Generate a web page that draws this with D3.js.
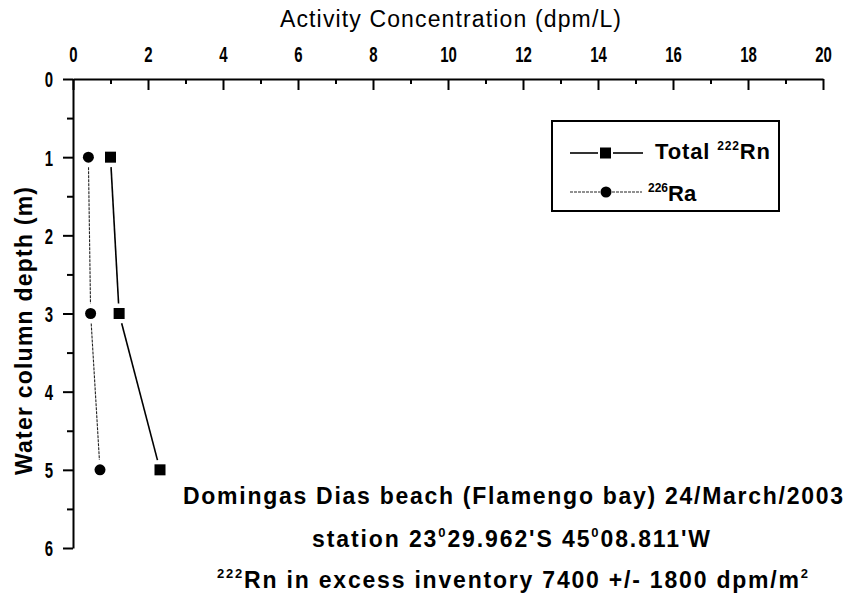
<!DOCTYPE html>
<html>
<head>
<meta charset="utf-8">
<script src="https://cdn.jsdelivr.net/npm/d3@7"></script>
<style>
  body { margin: 0; background: #fff; }
  svg { display: block; }
</style>
</head>
<body>
<svg id="chart" width="854" height="607"></svg>
<script>
// depth of the samples (m)
var depths = [1, 3, 5];
// activity concentration (dpm/L)
var rnTotal = [1.0, 1.23, 2.32];
var ra226 = [0.41, 0.47, 0.72];

var xMajor = [0, 2, 4, 6, 8, 10, 12, 14, 16, 18, 20];
var xMinor = [1, 3, 5, 7, 9, 11, 13, 15, 17, 19];
var yMajor = [0, 1, 2, 3, 4, 5, 6];
var yMinor = [0.5, 1.5, 2.5, 3.5, 4.5, 5.5];

var svg = d3.select("#chart");
var font = "'Liberation Sans', Arial, Helvetica, sans-serif";
var squeeze = 0.68; // tick labels are a narrow face

var x = d3.scaleLinear().domain([0, 20]).range([73, 823]);
var y = d3.scaleLinear().domain([0, 6]).range([79, 548]);

// top axis, ticks pointing down into the plot
var xAxis = svg.append("g").attr("transform", "translate(0," + y(0) + ")")
  .call(d3.axisTop(x).tickValues(xMajor).tickSize(-11).tickSizeOuter(0).tickPadding(17).tickFormat(d3.format("d")));
svg.append("g").attr("transform", "translate(0," + y(0) + ")")
  .call(d3.axisTop(x).tickValues(xMinor).tickSize(-5).tickFormat(""))
  .select(".domain").remove();

var yAxis = svg.append("g").attr("transform", "translate(" + x(0) + ",0)")
  .call(d3.axisLeft(y).tickValues(yMajor).tickSize(10).tickSizeOuter(0).tickPadding(10).tickFormat(d3.format("d")));
svg.append("g").attr("transform", "translate(" + x(0) + ",0)")
  .call(d3.axisLeft(y).tickValues(yMinor).tickSize(6).tickFormat(""))
  .select(".domain").remove();

svg.selectAll(".domain, .tick line").attr("stroke", "#000").attr("stroke-width", 2);
svg.selectAll(".tick text")
  .attr("font-family", font).attr("font-size", 22).attr("font-weight", "bold").attr("fill", "#000");
xAxis.selectAll(".tick text").attr("transform", "scale(" + squeeze + ",1)");
yAxis.selectAll(".tick text")
  .attr("x", -20 / squeeze).attr("dy", "0.36em")
  .attr("transform", "scale(" + squeeze + ",1)");

// axis titles
svg.append("text")
  .attr("x", 280).attr("y", 27)
  .attr("textLength", 341).attr("lengthAdjust", "spacing")
  .style("font-family", font).style("font-size", "23px")
  .text("Activity Concentration (dpm/L)");

svg.append("text")
  .attr("transform", "translate(32,475) rotate(-90)")
  .attr("textLength", 288).attr("lengthAdjust", "spacing")
  .style("font-family", font).style("font-size", "23px").style("font-weight", "bold")
  .text("Water column depth (m)");

// segments with small gaps next to the symbols
function drawSeries(values, gap, stroke, width, dash) {
  for (var i = 0; i < values.length - 1; i++) {
    var x1 = x(values[i]), y1 = y(depths[i]);
    var x2 = x(values[i + 1]), y2 = y(depths[i + 1]);
    var len = Math.hypot(x2 - x1, y2 - y1);
    var ux = (x2 - x1) / len, uy = (y2 - y1) / len;
    svg.append("line")
      .attr("x1", x1 + ux * gap).attr("y1", y1 + uy * gap)
      .attr("x2", x2 - ux * gap).attr("y2", y2 - uy * gap)
      .attr("stroke", stroke).attr("stroke-width", width)
      .attr("stroke-dasharray", dash);
  }
}
drawSeries(rnTotal, 10, "#000", 1.6, null);
drawSeries(ra226, 10, "#222", 1.1, "3,1");

svg.selectAll(".rn").data(depths).enter().append("rect")
  .attr("class", "rn")
  .attr("x", function(d, i) { return x(rnTotal[i]) - 5.5; })
  .attr("y", function(d) { return y(d) - 5.5; })
  .attr("width", 11).attr("height", 11)
  .attr("fill", "#000");

svg.selectAll(".ra").data(depths).enter().append("circle")
  .attr("class", "ra")
  .attr("cx", function(d, i) { return x(ra226[i]); })
  .attr("cy", function(d) { return y(d); })
  .attr("r", 5.5)
  .attr("fill", "#000");

// legend
var lg = svg.append("g");
lg.append("rect")
  .attr("x", 552).attr("y", 121).attr("width", 227).attr("height", 90)
  .attr("fill", "none").attr("stroke", "#000").attr("stroke-width", 2);

lg.append("line").attr("x1", 570).attr("x2", 598).attr("y1", 153).attr("y2", 153)
  .attr("stroke", "#000").attr("stroke-width", 1.6);
lg.append("line").attr("x1", 613).attr("x2", 643).attr("y1", 153).attr("y2", 153)
  .attr("stroke", "#000").attr("stroke-width", 1.6);
lg.append("rect").attr("x", 600).attr("y", 147.5).attr("width", 11).attr("height", 11).attr("fill", "#000");
lg.append("line").attr("x1", 570).attr("x2", 600).attr("y1", 192).attr("y2", 192)
  .attr("stroke", "#222").attr("stroke-width", 1.1).attr("stroke-dasharray", "3,1");
lg.append("line").attr("x1", 612).attr("x2", 642).attr("y1", 192).attr("y2", 192)
  .attr("stroke", "#222").attr("stroke-width", 1.1).attr("stroke-dasharray", "3,1");
lg.append("circle").attr("cx", 606).attr("cy", 192).attr("r", 5.5).attr("fill", "#000");

var t1 = lg.append("text").attr("x", 655).attr("y", 159)
  .attr("textLength", 115).attr("lengthAdjust", "spacing")
  .style("font-family", font).style("font-size", "22px").style("font-weight", "bold");
t1.append("tspan").text("Total ");
t1.append("tspan").attr("dy", -9).style("font-size", "12px").text("222");
t1.append("tspan").attr("dy", 9).text("Rn");

var t2 = lg.append("text").attr("x", 648).attr("y", 201)
  .style("font-family", font).style("font-size", "22px").style("font-weight", "bold");
t2.append("tspan").attr("dy", -9).style("font-size", "12px").text("226");
t2.append("tspan").attr("dy", 9).text("Ra");

// annotation block
var notes = svg.append("g")
  .style("font-family", font).style("font-size", "23px").style("font-weight", "bold");

notes.append("text").attr("x", 183).attr("y", 504)
  .attr("textLength", 660).attr("lengthAdjust", "spacing")
  .text("Domingas Dias beach (Flamengo bay) 24/March/2003");

var n2 = notes.append("text").attr("x", 312).attr("y", 547)
  .attr("textLength", 398).attr("lengthAdjust", "spacing");
n2.append("tspan").text("station 23");
n2.append("tspan").attr("dy", -10).style("font-size", "13px").text("0");
n2.append("tspan").attr("dy", 10).text("29.962'S 45");
n2.append("tspan").attr("dy", -10).style("font-size", "13px").text("0");
n2.append("tspan").attr("dy", 10).text("08.811'W");

var n3 = notes.append("text").attr("x", 217).attr("y", 588)
  .attr("textLength", 591).attr("lengthAdjust", "spacing");
n3.append("tspan").attr("dy", -10).style("font-size", "13px").text("222");
n3.append("tspan").attr("dy", 10).text("Rn in excess inventory 7400 +/- 1800 dpm/m");
n3.append("tspan").attr("dy", -10).style("font-size", "13px").text("2");
</script>
</body>
</html>
